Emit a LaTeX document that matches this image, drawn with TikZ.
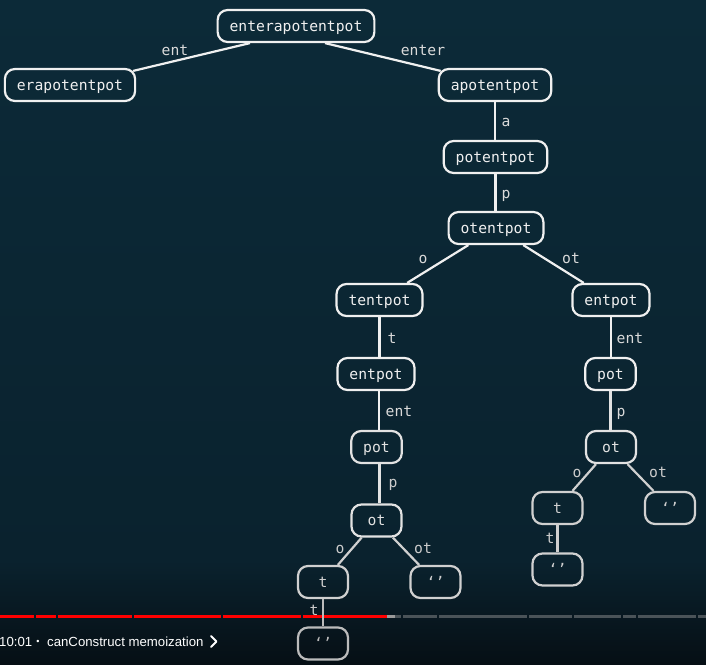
\documentclass[tikz,border=0pt]{standalone}
\usepackage{fontspec}
\setmonofont{DejaVu Sans Mono}
\setsansfont{Liberation Sans}
\definecolor{bgtop}{HTML}{0C2A38}
\definecolor{bgmid}{HTML}{0A222E}
\definecolor{bgbot}{HTML}{060F15}
\definecolor{ca}{HTML}{F0F0F0}
\definecolor{cb}{HTML}{E2E2E2}
\definecolor{cc}{HTML}{D0D0D0}
\definecolor{cd}{HTML}{BBBBBB}
\definecolor{la}{HTML}{DADADA}
\definecolor{lb}{HTML}{CCCCCC}
\definecolor{barred}{HTML}{FF0000}
\definecolor{barlight}{HTML}{9A9A9A}
\definecolor{bardark}{HTML}{4A5358}
\begin{document}
\begin{tikzpicture}[x=1pt,y=-1pt,
  bx/.style={draw=#1, text=#1, line width=2.2pt, rounded corners=10pt,
    minimum height=32pt, minimum width=50pt, inner xsep=12pt, inner ysep=0pt,
    text height=12pt, text depth=2pt, font=\ttfamily\fontsize{14.7}{16}\selectfont},
  bx/.default=ca,
  ln/.style={draw=#1, line width=2.2pt},
  ln/.default=ca,
  lbl/.style={text=#1, inner sep=0pt, anchor=base, font=\ttfamily\fontsize{14.7}{16}\selectfont},
  lbl/.default=la,
  captxt/.style={text=white, inner sep=0pt, font=\sffamily\fontsize{13.2}{15}\selectfont},
  seg/.style={draw=#1, line width=3pt},
]
\useasboundingbox (0,0) rectangle (706,664);
\shade[top color=bgtop, bottom color=bgmid] (0,0) rectangle (706,560);
\shade[top color=bgmid, bottom color=bgbot] (0,560) rectangle (706,664);

% progress bar
\foreach \a/\b in {0/34,36/56,58/132,134/221,223/301,303/387}
  \draw[seg=barred] (\a,616) -- (\b,616);
\draw[seg=barlight] (387,616) -- (395,616);
\foreach \a/\b in {395/400.5,403/437,439/527,529/572,574/621,623/636,638/696,698/706}
  \draw[seg=bardark] (\a,616) -- (\b,616);

% nodes
\node[bx] (root) at (296,26) {enterapotentpot};
\node[bx] (era) at (70,85) {erapotentpot};
\node[bx] (apot) at (495,85) {apotentpot};
\node[bx] (potp) at (495.5,157) {potentpot};
\node[bx] (oten) at (496,228) {otentpot};
\node[bx] (tent) at (379.5,300) {tentpot};
\node[bx] (entR) at (611,300) {entpot};
\node[bx] (entL) at (376,374) {entpot};
\node[bx] (potR) at (610.5,374) {pot};
\node[bx=cb] (potL) at (376.5,447) {pot};
\node[bx=cb] (otR) at (611,447) {ot};
\node[bx=cb] (otL) at (376.5,520.5) {ot};
\node[bx=cc] (tR) at (557.5,508) {t};
\node[bx=cc] (eR1) at (670,508) {‘’};
\node[bx=cc] (eR2) at (557.5,569.5) {‘’};
\node[bx=cc] (tL) at (323,582) {t};
\node[bx=cc] (eL1) at (435.5,582) {‘’};
\node[bx=cd] (eL2) at (323,643.5) {‘’};

% edges
\draw[ln] ([xshift=-46pt]root.south) -- ([xshift=-3pt,yshift=-3pt]era.north east);
\draw[ln] ([xshift=29pt]root.south) -- ([xshift=3pt,yshift=-3pt]apot.north west);
\draw[ln] (apot.south) -- (apot.south |- potp.north);
\draw[ln] (potp.south) -- (potp.south |- oten.north);
\draw[ln] (oten) -- (tent);
\draw[ln] (oten) -- (entR);
\draw[ln] (tent.south) -- (tent.south |- entL.north);
\draw[ln] (entR.south) -- (entR.south |- potR.north);
\draw[ln] ([xshift=3pt]entL.south) -- ([xshift=3pt]entL.south |- potL.north);
\draw[ln=cb] (potR.south) -- (potR.south |- otR.north);
\draw[ln=cb] ([xshift=3pt]potL.south) -- ([xshift=3pt]potL.south |- otL.north);
\draw[ln=cc] (otR) -- (tR);
\draw[ln=cc] (otR) -- (eR1);
\draw[ln=cc] (tR.south) -- (tR.south |- eR2.north);
\draw[ln=cc] (otL) -- (tL);
\draw[ln=cc] (otL) -- (eL1);
\draw[ln=cd] (tL.south) -- (tL.south |- eL2.north);

% edge labels
\node[lbl] (l1) at (175,55) {ent};
\node[lbl] (l2) at (423,55) {enter};
\node[lbl] (l3) at (506,126) {a};
\node[lbl] (l4) at (506,198) {p};
\node[lbl] (l5) at (423,263) {o};
\node[lbl] (l6) at (571,263) {ot};
\node[lbl] (l7) at (392,343) {t};
\node[lbl] (l8) at (630,343) {ent};
\node[lbl] (l9) at (399,416) {ent};
\node[lbl] (l10) at (621,416) {p};
\node[lbl=lb] (l11) at (393,487) {p};
\node[lbl=lb] (l12) at (577,477) {o};
\node[lbl=lb] (l13) at (658,477) {ot};
\node[lbl=lb] (l14) at (340,553) {o};
\node[lbl=lb] (l15) at (423,553) {ot};
\node[lbl=lb] (l16) at (550,543) {t};
\node[lbl=lb] (l17) at (314,615) {t};

% caption
\node[captxt, anchor=base west] (time) at (-1,646) {10:01};
\node[captxt, anchor=base, font=\sffamily\fontsize{9}{10}\selectfont] (dot) at (38,644) {•};
\node[captxt, anchor=base west] (title) at (47,646) {canConstruct memoization};
\coordinate (chev) at (211,636);
\draw[white, line width=1.8pt, line cap=round, line join=round] (chev) -- ++(5.5,5.5) -- ++(-5.5,5.5);
\end{tikzpicture}
\end{document}
